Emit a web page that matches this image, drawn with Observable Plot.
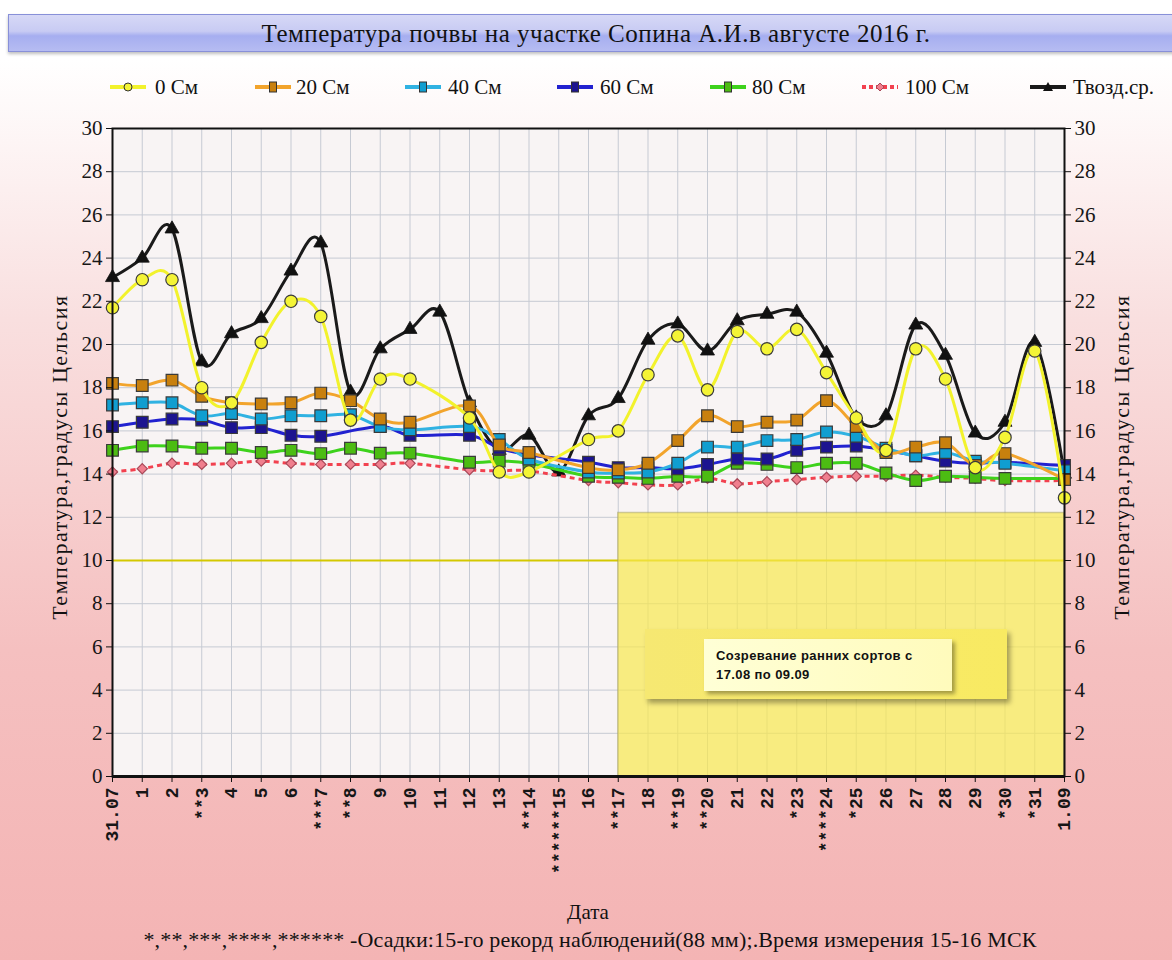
<!DOCTYPE html>
<html><head><meta charset="utf-8">
<script src="https://cdn.jsdelivr.net/npm/d3@7"></script>
<script src="https://cdn.jsdelivr.net/npm/@observablehq/plot@0.6"></script>
<style>
body{margin:0;width:1172px;height:960px;overflow:hidden;position:relative;
 background:linear-gradient(to bottom,#ffffff 0px,#ffffff 60px,#f9dfdf 320px,#f5c0c0 650px,#f4b4b4 960px);
 font-family:"Liberation Serif","Tinos","Times New Roman",serif;color:#111;}
#title{position:absolute;left:8px;top:14px;width:1176px;height:38px;box-sizing:border-box;border:1px solid #8890d8;
 background:linear-gradient(to bottom,#d6d8f6 0%,#c8cbf3 45%,#a6aef0 58%,#b6bcf2 100%);
 text-align:center;font-size:25px;letter-spacing:0.5px;line-height:37px;box-shadow:0 2px 3px rgba(0,0,0,0.25);}
.leg{position:absolute;top:76px;height:22px;display:flex;align-items:center;font-size:21px;white-space:nowrap;}
.leg svg{margin-right:10px;}
#chart{position:absolute;left:0;top:110px;}
.ytitle{position:absolute;font-size:22px;letter-spacing:1.5px;white-space:nowrap;transform:translate(-50%,-50%) rotate(-90deg);}
#xtitle{position:absolute;left:588px;top:912px;transform:translate(-50%,-50%);font-size:21px;}
#foot{position:absolute;left:590px;top:940px;transform:translate(-50%,-50%);font-size:22px;letter-spacing:0.15px;white-space:nowrap;}
#box2{position:absolute;left:645px;top:629px;width:362px;height:70px;
 background:linear-gradient(to right,#f6e872,#f8ea62);box-shadow:3px 4px 5px rgba(0,0,0,0.35);}
#box3{position:absolute;left:704px;top:639px;width:248px;height:52px;box-sizing:border-box;padding:7px 0 0 12px;
 background:linear-gradient(to right,#ffffd6,#fffbbc);box-shadow:3px 3px 4px rgba(0,0,0,0.35);
 font-family:"Liberation Sans",Arial,sans-serif;font-weight:bold;font-size:13px;line-height:19px;letter-spacing:0.4px;color:#111;}
</style></head>
<body>
<div id="title">Температура почвы на участке Сопина А.И.в августе 2016 г.</div>
<div id="legend"></div>
<div id="chart"></div>
<div class="ytitle" style="left:60px;top:457px;">Температура,градусы Цельсия</div>
<div class="ytitle" style="left:1122px;top:457px;">Температура,градусы Цельсия</div>
<div id="box2"></div>
<div id="box3">Созревание ранних сортов с<br>17.08 по 09.09</div>
<div id="xtitle">Дата</div>
<div id="foot">*,**,***,****,****** -Осадки:15-го рекорд наблюдений(88 мм);.Время измерения 15-16 МСК</div>
<script>
// ---- data ----
const dateLabels = ["31.07","1","2","**3","4","5","6","***7","**8","9","10","11","12","13","**14","******15","16","**17","18","**19","**20","21","22","*23","****24","*25","26","27","28","29","*30","*31","1.09"];
const soil0   = [21.7,23.0,23.0,18.0,17.3,20.1,22.0,21.3,16.5,18.4,18.4,null,16.6,14.1,14.1,null,15.6,16.0,18.6,20.4,17.9,20.6,19.8,20.7,18.7,16.6,15.1,19.8,18.4,14.3,15.7,19.7,12.9];
const soil20  = [18.2,18.1,18.35,17.6,17.3,17.25,17.3,17.75,17.4,16.55,16.4,null,17.15,15.35,15.0,null,14.3,14.2,14.5,15.55,16.7,16.2,16.4,16.5,17.4,16.2,15.0,15.25,15.45,14.4,14.95,null,13.75];
const soil40  = [17.2,17.3,17.3,16.7,16.8,16.55,16.7,16.7,16.75,16.2,16.05,null,16.2,15.6,14.7,null,14.1,14.05,14.1,14.5,15.25,15.25,15.55,15.6,15.95,15.75,15.2,14.85,15.0,14.6,14.5,null,14.15];
const soil60  = [16.2,16.4,16.55,16.5,16.15,16.15,15.8,15.75,null,16.2,15.8,null,15.8,15.2,14.9,null,14.55,14.3,14.3,14.25,14.45,14.7,14.7,15.1,15.25,15.3,15.1,14.85,14.6,14.5,14.55,null,14.4];
const soil80  = [15.1,15.3,15.3,15.2,15.2,15.0,15.1,14.95,15.2,14.97,14.97,null,14.55,14.6,14.5,null,13.9,13.85,13.8,13.9,13.9,14.5,14.45,14.3,14.5,14.5,14.05,13.7,13.9,13.85,13.8,null,13.8];
const soil100 = [14.1,14.25,14.5,14.45,14.5,14.6,14.5,14.45,14.45,14.45,14.5,null,14.2,14.15,14.15,null,13.7,13.6,13.5,13.5,13.8,13.55,13.65,13.75,13.85,13.9,13.9,13.95,13.85,13.8,13.7,null,13.7];
const airMean = [23.1,24.0,25.35,19.2,20.5,21.2,23.4,24.7,17.8,19.8,20.7,21.5,17.3,15.1,15.8,14.1,16.7,17.5,20.2,20.95,19.7,21.1,21.4,21.5,19.6,16.6,16.7,20.9,19.5,15.9,16.4,20.1,14.0];
const seriesNames = ["0 См","20 См","40 См","60 См","80 См","100 См","Твозд.ср."];
const threshold = 10;
const ripening = {from:"**17", to:"1.09", top:12.2};
const yTicks = d3.range(0, 31, 2);

// ---- styles ----
const styles = [
  {values:soil0,   line:"#f2f22c", fill:"#f4f436", symbol:"circle",   r:6.2, leftX:110, textX:155},
  {values:soil20,  line:"#f2a42c", fill:"#c8800e", symbol:"square",   r:6.6, leftX:255, textX:296},
  {values:soil40,  line:"#30b2e2", fill:"#109ed0", symbol:"square",   r:6.6, leftX:405, textX:448},
  {values:soil60,  line:"#2222d0", fill:"#1c1490", symbol:"square",   r:6.6, leftX:557, textX:600},
  {values:soil80,  line:"#3ed21c", fill:"#4cbc12", symbol:"square",   r:6.6, leftX:710, textX:752},
  {values:soil100, line:"#f2414f", fill:"#f07f8e", symbol:"diamond2", r:4.6, leftX:862, textX:905, dash:"5,4"},
  {values:airMean, line:"#1a1a1a", fill:"#111111", symbol:"triangle", r:5.2, leftX:1030, textX:1073}
];

const rows = [];
styles.forEach((s, k) => s.values.forEach((v, i) => rows.push({series:seriesNames[k], i, v})));
const idx = dateLabels.map((_, i) => i);

const seriesMarks = [];
[6,5,4,3,2,1,0].forEach(k => {
  const s = styles[k];
  const data = rows.filter(d => d.series === seriesNames[k] && d.v != null);
  seriesMarks.push(Plot.line(data, {x:"i", y:"v", stroke:s.line, strokeWidth:3, curve:"cardinal",
    strokeDasharray:s.dash || null, strokeLinecap: s.dash ? "butt" : "round"}));
  seriesMarks.push(Plot.dot(data, {x:"i", y:"v", symbol:s.symbol, r:s.r, fill:s.fill,
    stroke: k === 6 ? "#111" : (k === 5 ? "#a84858" : "#3a3a3a"), strokeWidth: k === 6 ? 0.8 : 1.2}));
});

const chart = Plot.plot({
  width:1172, height:850,
  marginLeft:112, marginRight:108, marginTop:18, marginBottom:184,
  style:{background:"transparent", overflow:"visible"},
  x:{domain:[0, dateLabels.length - 1]},
  y:{domain:[0, 30]},
  marks:[
    Plot.frame({fill:"#f8f4f4", stroke:null}),
    Plot.gridX(idx, {stroke:"#c6cad3", strokeOpacity:1, strokeWidth:1}),
    Plot.gridY(yTicks, {stroke:"#c6cad3", strokeOpacity:1, strokeWidth:1}),
    Plot.ruleY([threshold], {stroke:"#d4c800", strokeWidth:2}),
    Plot.rect([ripening], {x1:d => dateLabels.indexOf(d.from), x2:d => dateLabels.indexOf(d.to), y1:0, y2:d => d.top,
      fill:"#f8e84e", fillOpacity:0.7, stroke:"#9a9460", strokeOpacity:0.45, strokeWidth:1.5}),
    ...seriesMarks,
    Plot.frame({stroke:"#111", strokeWidth:2}),
    Plot.ruleY([0], {stroke:"#111", strokeWidth:3}),
    Plot.axisY(yTicks, {anchor:"left", tickSize:6, tickPadding:4, fontSize:21, fontFamily:"Liberation Serif", fill:"#161616", stroke:"#111", label:null}),
    Plot.axisY(yTicks, {anchor:"right", tickSize:6, tickPadding:4, fontSize:21, fontFamily:"Liberation Serif", fill:"#161616", stroke:"#111", label:null}),
    Plot.axisX(idx, {anchor:"bottom", tickSize:6, tickPadding:5, tickRotate:-90, tickFormat:i => dateLabels[i],
      fontSize:18, fontFamily:"Liberation Mono", fontWeight:"bold", fill:"#161616", stroke:"#111", label:null})
  ]
});
document.getElementById("chart").appendChild(chart);

// ---- legend ----
const leg = document.getElementById("legend");
styles.forEach((s, k) => {
  const item = document.createElement("div");
  item.className = "leg";
  item.style.left = s.leftX + "px";
  const w = 36, cy = 11;
  let marker = "";
  const st = k === 6 ? "#111" : "#333";
  if (s.symbol === "circle") marker = `<circle cx="${w/2}" cy="${cy}" r="4" fill="${s.fill}" stroke="${st}" stroke-width="1"/>`;
  else if (s.symbol === "square") marker = `<rect x="${w/2-3.5}" y="${cy-5}" width="7" height="10" fill="${s.fill}" stroke="${st}" stroke-width="1"/>`;
  else if (s.symbol === "diamond2") marker = `<path d="M${w/2},${cy-4}L${w/2+4},${cy}L${w/2},${cy+4}L${w/2-4},${cy}Z" fill="${s.fill}" stroke="#a84858" stroke-width="1"/>`;
  else marker = `<path d="M${w/2},${cy-5}L${w/2+5},${cy+4}L${w/2-5},${cy+4}Z" fill="#111"/>`;
  item.innerHTML = `<svg width="${w}" height="22"><line x1="0" x2="${w}" y1="${cy}" y2="${cy}" stroke="${s.line}" stroke-width="4" ${s.dash ? 'stroke-dasharray="4,3"' : ''}/>${marker}</svg>`;
  const t = document.createElement("span");
  t.textContent = seriesNames[k];
  item.appendChild(t);
  leg.appendChild(item);
  const svgW = w + 10;
  t.style.marginLeft = (s.textX - s.leftX - svgW) + "px";
});
</script>
</body></html>
